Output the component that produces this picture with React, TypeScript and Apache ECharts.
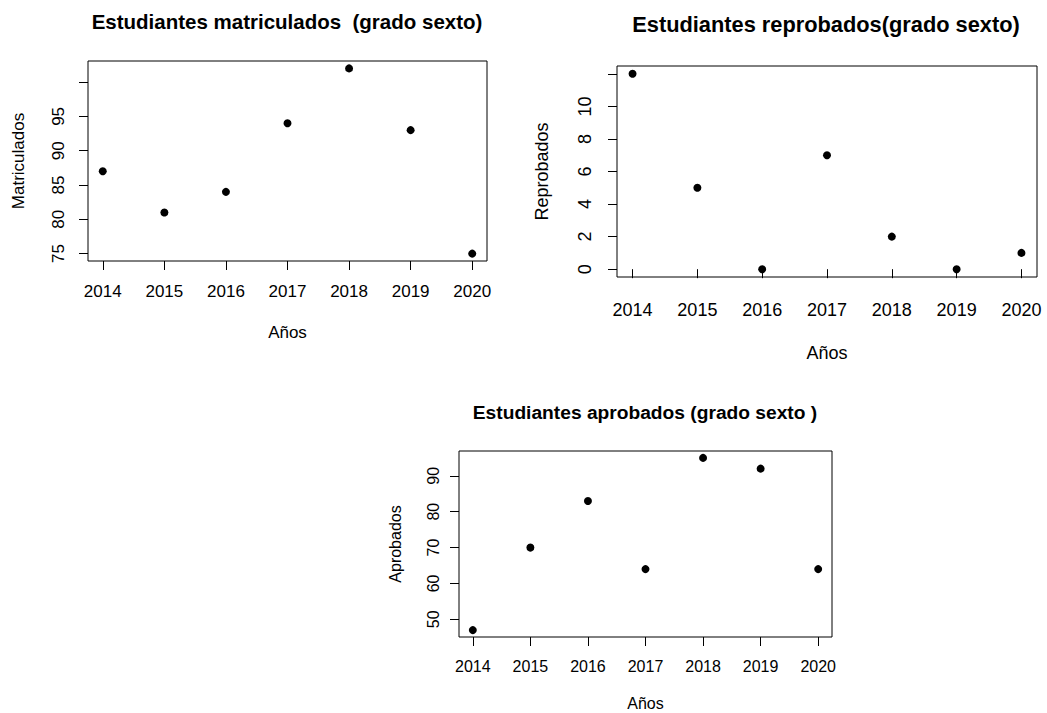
import React, { useEffect, useRef } from "react";
import * as echarts from "echarts";

const years = [2014, 2015, 2016, 2017, 2018, 2019, 2020];
const matriculados = [87, 81, 84, 94, 102, 93, 75];
const reprobados = [12, 5, 0, 7, 2, 0, 1];
const aprobados = [47, 70, 83, 64, 95, 92, 64];

const matTicks = [75, 80, 85, 90, 95, 100];
const matLabels = [75, 80, 85, 90, 95];
const repTicks = [0, 2, 4, 6, 8, 10, 12];
const repLabels = [0, 2, 4, 6, 8, 10];
const aprTicks = [50, 60, 70, 80, 90];

const titles = [
  "Estudiantes matriculados  (grado sexto)",
  "Estudiantes reprobados(grado sexto)",
  "Estudiantes aprobados (grado sexto )",
];
const yNames = ["Matriculados", "Reprobados", "Aprobados"];
const xName = "Años";

const FONT = "'Liberation Sans', Arial, sans-serif";

// R-style extended range (4% each side)
function rRange(vals: number[]) {
  const lo = Math.min(...vals);
  const hi = Math.max(...vals);
  const d = (hi - lo) * 0.04;
  return [lo - d, hi + d];
}

export default function App() {
  const ref = useRef<HTMLDivElement>(null);
  useEffect(() => {
    if (!ref.current) return;
    const chart = echarts.init(ref.current, null, { renderer: "svg" });

    const panels = [
      {
        grid: { left: 88, top: 61, width: 399, height: 200 },
        data: matriculados, ticks: matTicks, labels: matLabels,
        tickFont: 17, titleFont: 20.5, titleX: 287, titleTop: 11,
        xMargin: 22, yMargin: 21, xGap: 63, yGap: 61,
      },
      {
        grid: { left: 617, top: 66, width: 420, height: 211 },
        data: reprobados, ticks: repTicks, labels: repLabels,
        tickFont: 18, titleFont: 21.8, titleX: 826, titleTop: 13,
        xMargin: 24, yMargin: 23, xGap: 67, yGap: 66,
      },
      {
        grid: { left: 459, top: 451, width: 373, height: 186 },
        data: aprobados, ticks: aprTicks, labels: aprTicks,
        tickFont: 16, titleFont: 19.2, titleX: 645, titleTop: 403,
        xMargin: 21, yMargin: 18, xGap: 58, yGap: 56,
      },
    ];

    const xr = rRange(years);

    const option: any = {
      animation: false,
      backgroundColor: "#fff",
      title: panels.map((p, i) => ({
        text: titles[i],
        left: p.titleX,
        top: p.titleTop,
        textAlign: "center",
        padding: 0,
        textStyle: { fontFamily: FONT, fontWeight: "bold", fontSize: p.titleFont, color: "#000" },
      })),
      grid: panels.map((p) => ({
        ...p.grid,
        show: true,
        borderColor: "#000",
        borderWidth: 1,
        backgroundColor: "transparent",
        containLabel: false,
      })),
      xAxis: panels.map((p, i) => ({
        type: "value",
        gridIndex: i,
        min: xr[0],
        max: xr[1],
        name: xName,
        nameLocation: "middle",
        nameGap: p.xGap,
        nameTextStyle: { fontFamily: FONT, fontSize: p.tickFont, color: "#000" },
        axisLine: { show: false },
        splitLine: { show: false },
        axisTick: { show: true, inside: false, length: 9, customValues: years, lineStyle: { color: "#000" } },
        axisLabel: {
          show: true,
          customValues: years,
          margin: p.xMargin,
          fontFamily: FONT,
          fontSize: p.tickFont,
          color: "#000",
          formatter: (v: number) => String(v),
        },
      })),
      yAxis: panels.map((p, i) => {
        const yr = rRange(p.data);
        return {
          type: "value",
          gridIndex: i,
          min: yr[0],
          max: yr[1],
          name: yNames[i],
          nameLocation: "middle",
          nameGap: p.yGap,
          nameRotate: 90,
          nameTextStyle: { fontFamily: FONT, fontSize: p.tickFont, color: "#000" },
          axisLine: { show: false },
          splitLine: { show: false },
          axisTick: { show: true, inside: false, length: 9, customValues: p.ticks, lineStyle: { color: "#000" } },
          axisLabel: {
            show: true,
            customValues: p.labels,
            rotate: 90,
            margin: p.yMargin,
            fontFamily: FONT,
            fontSize: p.tickFont,
            color: "#000",
            formatter: (v: number) => String(v),
          },
        };
      }),
      series: panels.map((p, i) => ({
        type: "scatter",
        xAxisIndex: i,
        yAxisIndex: i,
        symbol: "circle",
        symbolSize: 8,
        itemStyle: { color: "#000", opacity: 1 },
        data: years.map((y, k) => [y, p.data[k]]),
      })),
    };

    chart.setOption(option);
    return () => chart.dispose();
  }, []);

  return (
    <div
      ref={ref}
      style={{ position: "absolute", left: 0, top: 0, width: 1047, height: 713, background: "#fff" }}
    />
  );
}
